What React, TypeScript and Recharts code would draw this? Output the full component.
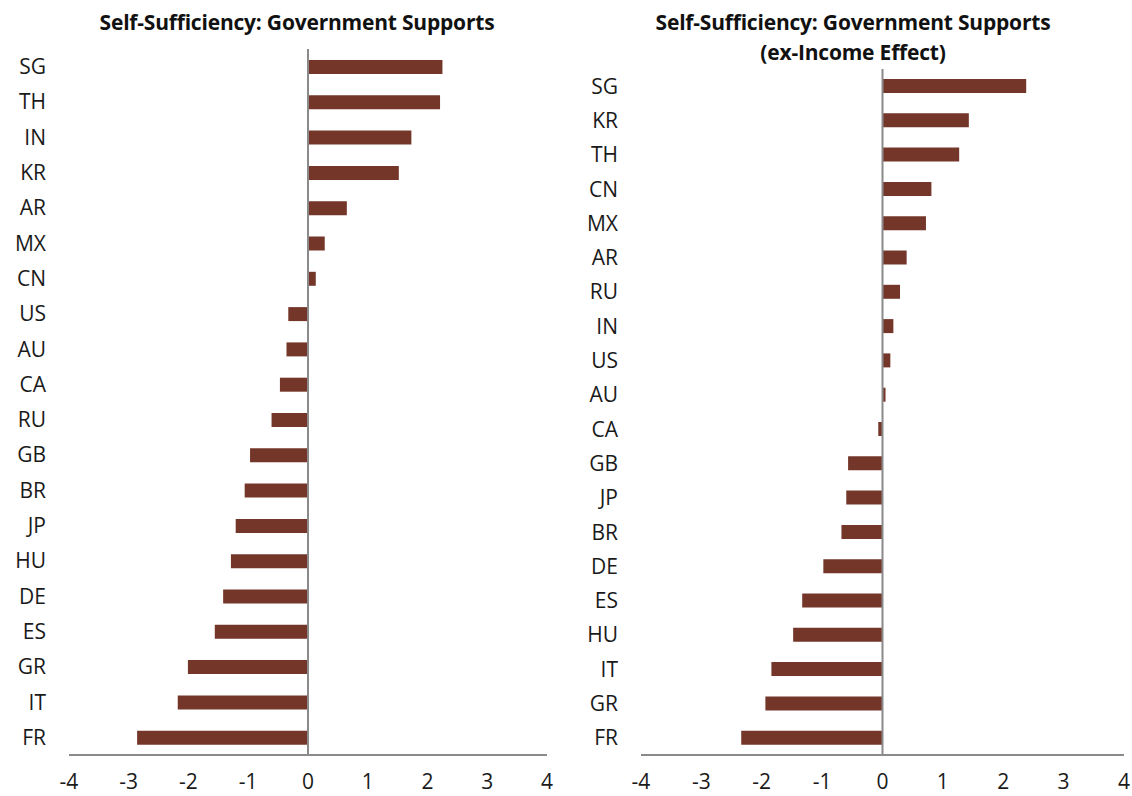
import * as React from 'react'
import { BarChart, Bar, XAxis, YAxis, ReferenceLine } from 'recharts'

// left panel: Government Supports
const leftCountries = ['SG', 'TH', 'IN', 'KR', 'AR', 'MX', 'CN', 'US', 'AU', 'CA', 'RU', 'GB', 'BR', 'JP', 'HU', 'DE', 'ES', 'GR', 'IT', 'FR']
const leftValues = [2.25, 2.21, 1.73, 1.52, 0.65, 0.28, 0.13, -0.33, -0.36, -0.47, -0.61, -0.97, -1.06, -1.21, -1.29, -1.42, -1.56, -2.01, -2.18, -2.86]

// right panel: ex-Income Effect
const rightCountries = ['SG', 'KR', 'TH', 'CN', 'MX', 'AR', 'RU', 'IN', 'US', 'AU', 'CA', 'GB', 'JP', 'BR', 'DE', 'ES', 'HU', 'IT', 'GR', 'FR']
const rightValues = [2.38, 1.43, 1.27, 0.81, 0.72, 0.4, 0.29, 0.18, 0.13, 0.05, -0.07, -0.57, -0.6, -0.68, -0.98, -1.33, -1.48, -1.84, -1.94, -2.34]

const xTicks = [-4, -3, -2, -1, 0, 1, 2, 3, 4]

const FONT = '"Open Sans", sans-serif'
const BAR_COLOR = '#75362a'
const AXIS_COLOR = '#8a8a8a'

interface PanelProps {
  countries: string[]
  values: number[]
  left: number
  top: number
  yAxisWidth: number
  rightMargin: number
}

function Panel({ countries, values, left, top, yAxisWidth, rightMargin }: PanelProps) {
  const data = countries.map((c, i) => ({ country: c, value: values[i] }))
  return (
    <div style={{ position: 'absolute', left, top: 0 }}>
      <BarChart
        width={566}
        height={796}
        data={data}
        layout="vertical"
        margin={{ top, right: rightMargin, bottom: 11, left: 0 }}
      >
        <XAxis
          type="number"
          domain={[-4, 4]}
          ticks={xTicks}
          allowDataOverflow
          height={30}
          axisLine={{ stroke: AXIS_COLOR, strokeWidth: 2 }}
          tickLine={false}
          tickSize={0}
          tickMargin={19}
          tick={{ fill: '#1a1a1a', fontSize: 21, fontFamily: FONT }}
        />
        <YAxis
          type="category"
          dataKey="country"
          width={yAxisWidth}
          axisLine={false}
          tickLine={false}
          tickSize={0}
          tickMargin={23}
          interval={0}
          tick={{ fill: '#1a1a1a', fontSize: 21, fontFamily: FONT }}
        />
        <Bar dataKey="value" fill={BAR_COLOR} barSize={14} isAnimationActive={false} />
        <ReferenceLine x={0} stroke={AXIS_COLOR} strokeWidth={2} />
      </BarChart>
    </div>
  )
}

const titleStyle: React.CSSProperties = {
  position: 'absolute',
  fontFamily: FONT,
  fontWeight: 700,
  fontSize: 21,
  lineHeight: '30px',
  color: '#111',
  textAlign: 'center',
  letterSpacing: -0.2,
  whiteSpace: 'nowrap',
}

export default function App() {
  return (
    <div style={{ position: 'absolute', left: 0, top: 0, width: 1132, height: 796, background: '#fff' }}>
      <Panel countries={leftCountries} values={leftValues} left={0} top={49} yAxisWidth={69} rightMargin={19} />
      <Panel countries={rightCountries} values={rightValues} left={566} top={69} yAxisWidth={75} rightMargin={8} />
      <div style={{ ...titleStyle, left: 77, width: 440, top: 7 }}>Self-Sufficiency: Government Supports</div>
      <div style={{ ...titleStyle, left: 633, width: 440, top: 7 }}>
        Self-Sufficiency: Government Supports
        <br />
        (ex-Income Effect)
      </div>
    </div>
  )
}
